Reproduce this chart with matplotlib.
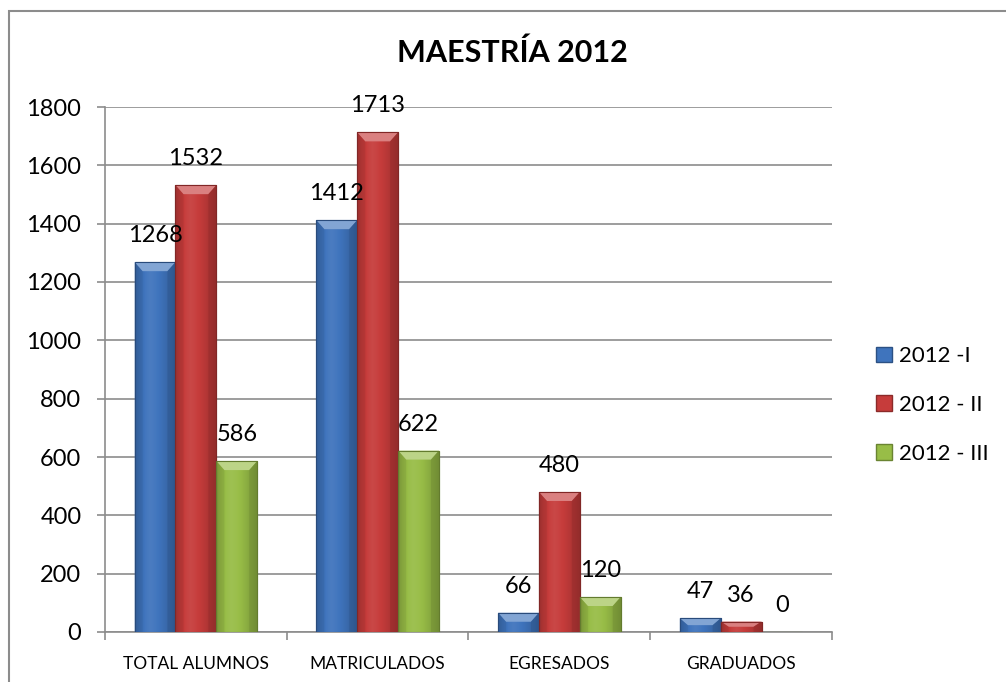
import numpy as np
import matplotlib
matplotlib.use('Agg')
import matplotlib.pyplot as plt
from matplotlib.patches import Patch, Polygon, Rectangle
from matplotlib.colors import to_rgb

categories = ['TOTAL ALUMNOS', 'MATRICULADOS', 'EGRESADOS', 'GRADUADOS']
series_names = ['2012 -I', '2012 - II', '2012 - III']
vals_1 = [1268, 1412, 66, 47]
vals_2 = [1532, 1713, 480, 36]
vals_3 = [586, 622, 120, 0]
colors = ['#3f74bd', '#c63c3b', '#98bd47']

plt.rcParams['font.family'] = ['Lato', 'DejaVu Sans']

fig = plt.figure(figsize=(10.06, 6.82), dpi=100)
ax = fig.add_axes([105/1006, 1 - 632/682, (832-105)/1006, (632-107)/682])

x = np.arange(len(categories))
width = 0.225
ymax = 1800
# pixels -> data units for the bevel
bev_y = 9 * ymax / 525
bev_x = 8 / 182


def shade(c, f):
    r = np.array(to_rgb(c))
    if f >= 1:
        return r + (1 - r) * (f - 1)
    return r * f


for i, (vals, c) in enumerate(zip([vals_1, vals_2, vals_3], colors)):
    xs = x + (i - 1) * width
    bars = ax.bar(xs, vals, width, color=c, edgecolor=shade(c, 0.7), linewidth=0.8, zorder=3)
    # horizontal gradient inside each bar
    prof = np.array([0.72, 0.9, 1.02, 1.06, 1.03, 0.98, 0.92, 0.85, 0.75])
    grad = np.array([[shade(c, f) for f in np.interp(np.linspace(0, 1, 64), np.linspace(0, 1, len(prof)), prof)]])
    for b, v in zip(bars, vals):
        if v <= 0:
            continue
        x0 = b.get_x()
        im = ax.imshow(grad, extent=[x0, x0 + width, 0, v], aspect='auto', zorder=3.5, interpolation='bilinear')
        im.set_clip_path(b)
        bh = min(bev_y, v / 2)
        top = Polygon([[x0, v], [x0 + width, v], [x0 + width - bev_x, v - bh], [x0 + bev_x, v - bh]],
                      closed=True, facecolor=shade(c, 1.35), edgecolor='none', zorder=4)
        ax.add_patch(top)
        left = Polygon([[x0, v], [x0 + bev_x, v - bh], [x0 + bev_x, 0], [x0, 0]],
                       closed=True, facecolor=shade(c, 0.88), edgecolor='none', alpha=0.5, zorder=4)
        right = Polygon([[x0 + width, v], [x0 + width - bev_x, v - bh], [x0 + width - bev_x, 0], [x0 + width, 0]],
                        closed=True, facecolor=shade(c, 0.75), edgecolor='none', alpha=0.5, zorder=4)
        ax.add_patch(left)
        ax.add_patch(right)
        ax.add_patch(Rectangle((x0, 0), width, v, fill=False, edgecolor=shade(c, 0.65), linewidth=0.8, zorder=4.5))
    for xi, v in zip(xs, vals):
        ax.annotate(str(v), (xi, v), xytext=(0, 19), textcoords='offset points',
                    ha='center', va='center', fontsize=17, zorder=6)

ax.set_xlim(-0.5, len(categories) - 0.5)
ax.set_ylim(0, ymax)
ax.set_yticks(np.arange(0, 1801, 200))
ax.yaxis.grid(True, color='#8c8c8c', linewidth=1.2, zorder=0)
ax.set_axisbelow(True)
ax.set_xticks(x)
ax.set_xticklabels(categories, fontsize=12.5)
ax.set_xticks(np.arange(-0.5, len(categories), 1), minor=True)
ax.tick_params(axis='x', which='major', length=0, pad=17)
ax.tick_params(axis='x', which='minor', length=6, color='#8c8c8c', width=1.2, direction='out')
ax.tick_params(axis='y', length=6, color='#8c8c8c', width=1.2, pad=11, labelsize=17)
for s in ['top', 'right']:
    ax.spines[s].set_visible(False)
for s in ['left', 'bottom']:
    ax.spines[s].set_color('#8c8c8c')
    ax.spines[s].set_linewidth(1.2)

handles = [Patch(facecolor=c, edgecolor=shade(c, 0.7)) for c in colors]
fig.legend(handles, series_names, loc='center left', bbox_to_anchor=(856/1006, 1 - 405/682),
           frameon=False, fontsize=16, labelspacing=1.3, handlelength=0.7, handleheight=0.7,
           handletextpad=0.35)

fig.text(512/1006, 1 - 53/682, 'MAESTRÍA 2012', ha='center', va='center', fontsize=22, fontweight='bold')

fig.patches.append(Rectangle((9/1006, -0.05), 1.1, 1 - 11/682 + 0.05, transform=fig.transFigure,
                             fill=False, edgecolor='#8c8c8c', linewidth=1.5))

fig.savefig('out.png', dpi=100)
